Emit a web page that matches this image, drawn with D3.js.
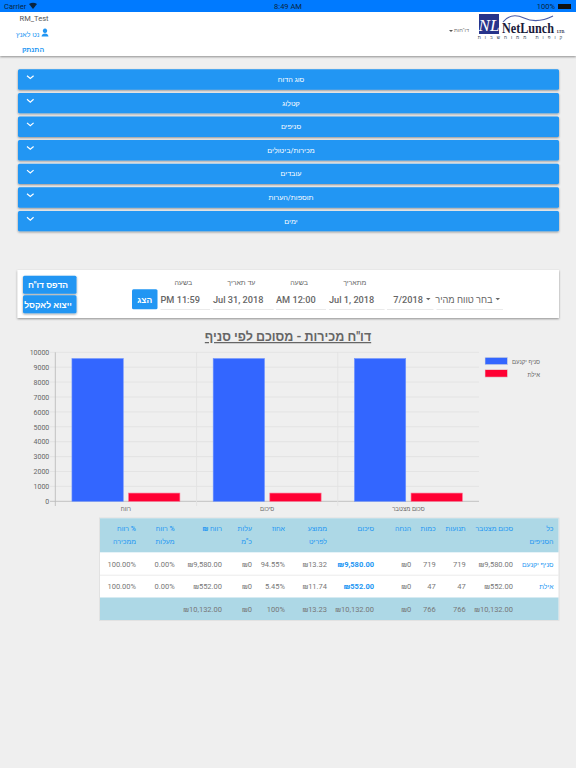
<!DOCTYPE html>
<html>
<head>
<meta charset="utf-8">
<script src="https://cdn.jsdelivr.net/npm/d3@7/dist/d3.min.js"></script>
<style>
  html, body { margin: 0; padding: 0; background: #efefef; overflow: hidden; }
  text { font-family: Roboto, "Liberation Sans", sans-serif; }
</style>
</head>
<body>
<div id="canvas"></div>
<script>
// chart data
const categories = ["רווח", "סיכום", "סכום מצטבר"];
const branches = ["סניף יקנעם", "אילת"];
const branchColors = ["#3366ff", "#ff0033"];
const branchValues = [
  [9580, 9580, 9580],
  [552, 552, 552]
];
const yTicks = [0, 1000, 2000, 3000, 4000, 5000, 6000, 7000, 8000, 9000, 10000];

// page text
const accordionLabels = ["סוג הדוח", "קטלוג", "סניפים", "מכירות/ביטולים", "עובדים", "תוספות/הערות", "ימים"];
const filterLabels = ["בשעה", "עד תאריך", "בשעה", "מתאריך"];
const filterValues = ["PM 11:59", "Jul 31, 2018", "AM 12:00", "Jul 1, 2018"];

// table, right to left
const tableHeaders = [
  ["כל", "הסניפים"], ["סכום מצטבר"], ["תנועות"], ["כמות"], ["הנחה"], ["סיכום"],
  ["ממוצע", "לפריט"], ["אחוז"], ["עלות", "כ\"מ"], ["₪ רווח"], ["\u200F% רווח", "מעלות"], ["\u200F% רווח", "ממכירה"]
];
const tableRows = [
  ["סניף יקנעם", "₪9,580.00", "719", "719", "₪0", "₪9,580.00", "₪13.32", "94.55%", "₪0", "₪9,580.00", "0.00%", "100.00%"],
  ["אילת", "₪552.00", "47", "47", "₪0", "₪552.00", "₪11.74", "5.45%", "₪0", "₪552.00", "0.00%", "100.00%"]
];
const tableTotals = ["", "₪10,132.00", "766", "766", "₪0", "₪10,132.00", "₪13.23", "100%", "₪0", "₪10,132.00", "", ""];
const columnRight = [553.5, 513, 465.7, 435.7, 411.3, 374, 327, 285, 252, 222, 174.7, 136];

const blue = "#2196f3";

let svg = d3.select("#canvas").append("svg")
  .attr("width", 576)
  .attr("height", 768);

let defs = svg.append("defs");
let shadow = defs.append("filter").attr("id", "shadow")
  .attr("x", "-5%").attr("y", "-20%").attr("width", "110%").attr("height", "150%");
shadow.append("feDropShadow")
  .attr("dx", 0).attr("dy", 1).attr("stdDeviation", 1)
  .attr("flood-color", "#000").attr("flood-opacity", 0.4);

function label(g, x, y, str, size, color, anchor, weight) {
  return g.append("text")
    .attr("x", x)
    .attr("y", y)
    .attr("font-size", size)
    .attr("fill", color)
    .attr("text-anchor", anchor || "middle")
    .attr("font-weight", weight || 400)
    .text(str);
}

svg.append("rect").attr("width", 576).attr("height", 768).attr("fill", "#efefef");

// header
svg.append("rect").attr("y", 0).attr("width", 576).attr("height", 56)
  .attr("fill", "#fff").attr("filter", "url(#shadow)");
svg.append("rect").attr("width", 576).attr("height", 12).attr("fill", "#007aff");
let status = svg.append("g");
label(status, 4, 9, "Carrier", 7.5, "#0a2540", "start");
label(status, 288, 9, "8:49 AM", 7.5, "#0a2540");
label(status, 555, 9, "100%", 7.5, "#0a2540", "end");
status.append("path").attr("d", "M29 4 Q33 1.5 37 4 L33 9 Z").attr("fill", "#0a2540");
status.append("rect").attr("x", 558).attr("y", 4).attr("width", 13).attr("height", 5).attr("fill", "#111");

label(svg, 34, 21, "RM_Test", 7.5, "#555");
label(svg, 39.5, 36.5, "נט לאנץ", 7, blue, "end");
svg.append("path").attr("d", "M45 33 a2.2 2.2 0 1 1 0.01 0 M41.5 36.5 q0.5 -3 3.5 -3 q3 0 3.5 3 Z").attr("fill", blue);
label(svg, 33, 52, "התנתק", 7, blue, "middle", 700);

// logo
let logo = svg.append("g");
label(logo, 469, 32, "דו\"חות", 5.5, "#777", "end");
logo.append("path").attr("d", "M449 30 h4 l-2 2 Z").attr("fill", "#555");
logo.append("rect").attr("x", 479).attr("y", 14).attr("width", 20).attr("height", 20).attr("fill", "#27348b");
logo.append("text").attr("x", 489).attr("y", 31).attr("text-anchor", "middle")
  .attr("font-size", 17).attr("font-style", "italic").attr("fill", "#fff")
  .style("font-family", "'Liberation Serif'").text("NL");
logo.append("path").attr("d", "M503 22 Q511 12 524 18 T553 16").attr("fill", "none").attr("stroke", "#4a5ba8").attr("stroke-width", 1.2);
logo.append("text").attr("x", 502).attr("y", 32.5).attr("font-size", 14.5).attr("font-weight", 700).attr("fill", "#1a1a3a")
  .attr("textLength", 52).attr("lengthAdjust", "spacingAndGlyphs")
  .style("font-family", "'Liberation Serif'").text("NetLunch");
logo.append("text").attr("x", 557).attr("y", 32.5).attr("font-size", 3.6).attr("font-weight", 700).attr("fill", "#1a1a3a")
  .style("font-family", "'Liberation Serif'").text("LTD.");
label(logo, 522, 38.5, "קופות ממוחשבות", 4.5, "#345", "middle").attr("letter-spacing", 4);

// accordion bars
accordionLabels.forEach(function (d, i) {
  let y = 69.3 + i * 23.6;
  let g = svg.append("g");
  g.append("rect").attr("x", 18).attr("y", y).attr("width", 541).attr("height", 20.4).attr("rx", 1.5)
    .attr("fill", blue).attr("filter", "url(#shadow)");
  g.append("path").attr("d", "M27 " + (y + 6.4) + " l3.3 2.8 l3.3 -2.8")
    .attr("fill", "none").attr("stroke", "#fff").attr("stroke-width", 1.2);
  label(g, 291, y + 12.7, d, 7.2, "#fff");
});

// filter panel
svg.append("rect").attr("x", 17.5).attr("y", 270).attr("width", 541.5).attr("height", 48)
  .attr("fill", "#fff").attr("filter", "url(#shadow)");
let printButtons = ["הדפס דו\"ח", "ייצוא לאקסל"];
printButtons.forEach(function (d, i) {
  let y = 275.7 + i * 19.6;
  svg.append("rect").attr("x", 23).attr("y", y).attr("width", 53.5).attr("height", 18).attr("rx", 1.5)
    .attr("fill", blue).attr("filter", "url(#shadow)");
  label(svg, 48, y + 12.5, d, 8.5, "#fff", "middle", 700);
});
svg.append("rect").attr("x", 132).attr("y", 289.3).attr("width", 25.5).attr("height", 20).attr("rx", 1.5).attr("fill", blue);
label(svg, 144.7, 303, "הצג", 8.5, "#fff", "middle", 700);

let fieldLeft = [160.5, 213, 276, 329];
let fieldRight = [210, 273.7, 326, 384.6];
filterValues.forEach(function (d, i) {
  let mid = (fieldLeft[i] + fieldRight[i]) / 2;
  label(svg, mid - 2, 285, filterLabels[i], 7, "#666");
  label(svg, fieldLeft[i], 302.5, d, 9.2, "#666", "start", 500);
});
let selectBoxes = [[387, 433.5, "7/2018"], [436.5, 503, "בחר טווח מהיר"]];
selectBoxes.forEach(function (d) {
  label(svg, d[1] - 10.5, 302.5, d[2], 9.2, "#666", "end", 500);
  svg.append("path").attr("d", "M" + (d[1] - 7.5) + " 298 h4.5 l-2.25 2.2 Z").attr("fill", "#666");
});
fieldLeft.concat([387, 436.5]).forEach(function (x0, i) {
  let x1 = fieldRight.concat([433.5, 503])[i];
  svg.append("line").attr("x1", x0).attr("x2", x1).attr("y1", 309.5).attr("y2", 309.5)
    .attr("stroke", "#e4e4e4").attr("stroke-width", 0.8);
});

// title
label(svg, 288, 341, "דו\"ח מכירות - מסוכם לפי סניף", 12.5, "#666", "middle", 700)
  .attr("text-decoration", "underline");

// bar chart
let xScale = d3.scaleBand().domain(categories).range([55.3, 479]);
let seriesScale = d3.scaleBand().domain(branches).range([0, xScale.bandwidth()]).paddingInner(0.094).paddingOuter(0.294);
let yScale = d3.scaleLinear().domain([0, 10000]).range([501.3, 352.3]);

let gridColor = "#e2e2e2";
let chart = svg.append("g");

chart.append("g").selectAll("line").data(yTicks).enter().append("line")
  .attr("x1", 50).attr("x2", 479)
  .attr("y1", d => yScale(d)).attr("y2", d => yScale(d))
  .attr("stroke", d => d === 0 ? "#bbb" : gridColor).attr("stroke-width", 0.9);

let bandEdges = categories.map(d => xScale(d));
chart.append("g").selectAll("line").data(bandEdges).enter().append("line")
  .attr("x1", d => d).attr("x2", d => d)
  .attr("y1", 352.3).attr("y2", 506)
  .attr("stroke", (d, i) => i === 0 ? "#bbb" : gridColor).attr("stroke-width", 0.9);

let yAxis = d3.axisLeft(yScale).tickValues(yTicks).tickSize(0).tickPadding(6).tickFormat(d3.format("d"));
let yAxisG = chart.append("g").attr("transform", "translate(55.3,0)").call(yAxis);
yAxisG.select(".domain").remove();
yAxisG.selectAll("text").attr("font-size", 7).attr("fill", "#666").style("font-family", "Roboto, 'Liberation Sans'");

let xAxis = d3.axisBottom(xScale).tickSize(0).tickPadding(5);
let xAxisG = chart.append("g").attr("transform", "translate(0,501.3)").call(xAxis);
xAxisG.select(".domain").remove();
xAxisG.selectAll("text").attr("font-size", 6).attr("fill", "#666").style("font-family", "'Liberation Sans'");

branches.forEach(function (b, s) {
  chart.append("g").selectAll("rect").data(branchValues[s]).enter().append("rect")
    .attr("x", (d, i) => xScale(categories[i]) + seriesScale(b))
    .attr("y", d => yScale(d))
    .attr("width", seriesScale.bandwidth())
    .attr("height", d => yScale(0) - yScale(d))
    .attr("fill", branchColors[s])
    .attr("stroke", s === 0 ? "#6f93ff" : "#ff6f8f")
    .attr("stroke-width", 0.6);
});

// legend
branches.forEach(function (b, i) {
  let y = 357.3 + i * 12.4;
  svg.append("rect").attr("x", 485).attr("y", y).attr("width", 22.5).attr("height", 7.4)
    .attr("fill", branchColors[i]).attr("stroke", "#ddd").attr("stroke-width", 0.6);
  label(svg, 540, y + 7, b, 6, "#666", "end").style("font-family", "'Liberation Sans'");
});

// table
let table = svg.append("g");
table.append("rect").attr("x", 99.5).attr("y", 518).attr("width", 459.5).attr("height", 102.5)
  .attr("fill", "#fff").attr("stroke", "#ddd").attr("stroke-width", 0.8);
table.append("rect").attr("x", 100).attr("y", 518.3).attr("width", 458.5).attr("height", 34).attr("fill", "#add8e6");
table.append("rect").attr("x", 100).attr("y", 597.5).attr("width", 458.5).attr("height", 22.5).attr("fill", "#add8e6");
table.append("line").attr("x1", 100).attr("x2", 558.5).attr("y1", 575.2).attr("y2", 575.2).attr("stroke", "#e6e6e6").attr("stroke-width", 0.8);

tableHeaders.forEach(function (lines, c) {
  lines.forEach(function (t, l) {
    label(table, columnRight[c], 530.5 + l * 13.3, t, 7, blue, "end", 500);
  });
});
tableRows.forEach(function (row, r) {
  let y = 567 + r * 22.4;
  row.forEach(function (t, c) {
    let color = (c === 0 || c === 5) ? blue : "#777";
    label(table, columnRight[c], y, t, c === 0 ? 6.8 : 7.5, color, "end", c === 5 ? 700 : 400);
  });
});
tableTotals.forEach(function (t, c) {
  label(table, columnRight[c], 611.8, t, 7.5, "#777", "end");
});
</script>
</body>
</html>
